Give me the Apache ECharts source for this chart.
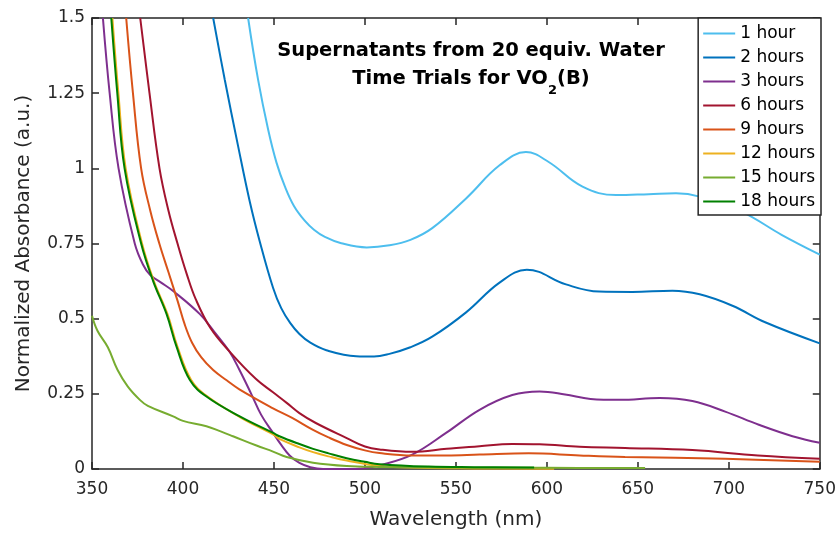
<!DOCTYPE html>
<html>
<head>
<meta charset="utf-8">
<script src="https://cdn.jsdelivr.net/npm/echarts@6/dist/echarts.min.js"></script>
<style>
html,body{margin:0;padding:0;background:#fff;}
#chart{width:839px;height:535px;}
</style>
</head>
<body>
<div id="chart"></div>
<script>
// ---- data (wavelength nm, normalized absorbance) ----
const seriesNames = ['1 hour','2 hours','3 hours','6 hours','9 hours','12 hours','15 hours','18 hours'];
const seriesColors = ['#4DBEEE','#0072BD','#7E2F8E','#A2142F','#D95319','#EDB120','#77AC30','#008000'];
const xTicks = [350,400,450,500,550,600,650,700,750];
const yTicks = [0,0.25,0.5,0.75,1,1.25,1.5];

const h1 = [[435.8,1.5],[441.3,1.294],[446.8,1.129],[451.4,1.019],[456,0.94],[461,0.875],[466.9,0.826],[472,0.796],[478,0.772],[487,0.751],[501,0.737],[513.5,0.744],[525,0.762],[537,0.801],[555.6,0.9],[574,1.01],[588.5,1.054],[601,1.021],[619.6,0.939],[638,0.911],[656,0.914],[671,0.917],[684,0.906],[707,0.856],[729,0.779],[750,0.713]];
const h2 = [[416.6,1.5],[423,1.294],[430.3,1.074],[436.7,0.89],[442.2,0.757],[449.5,0.603],[454,0.535],[459,0.485],[464,0.449],[470,0.42],[478.8,0.395],[495.2,0.375],[505,0.374],[513.5,0.383],[525,0.405],[537,0.44],[555.6,0.521],[574,0.62],[589,0.663],[610.5,0.614],[628.7,0.59],[647,0.589],[669,0.593],[684,0.581],[702,0.543],[720,0.488],[750,0.418]];
const h3 = [[356,1.5],[359.7,1.25],[364.6,1.0],[373.5,0.75],[378,0.68],[382,0.645],[388,0.62],[394.6,0.592],[409.3,0.515],[418,0.45],[425.7,0.389],[431,0.33],[437.5,0.25],[443,0.18],[449.5,0.12],[454,0.08],[458.6,0.045],[464,0.02],[470,0.006],[477,0],[490,0],[499,0.002],[508,0.012],[526,0.048],[544.6,0.12],[563,0.197],[581,0.246],[596,0.258],[610,0.248],[624,0.233],[640,0.23],[662,0.236],[680,0.226],[698,0.191],[716.5,0.147],[735,0.109],[750,0.087]];
const h6 = [[376.5,1.5],[381.6,1.25],[387.1,1.0],[392,0.86],[397,0.75],[402,0.65],[407,0.565],[415,0.47],[426,0.388],[440,0.3],[449.5,0.255],[457,0.22],[464,0.186],[473,0.153],[490,0.103],[500,0.075],[508,0.065],[526,0.057],[545,0.067],[563,0.076],[581,0.083],[596,0.082],[618,0.074],[643,0.07],[680,0.063],[716,0.045],[750,0.034]];
const h9 = [[368.8,1.5],[372.5,1.25],[377,1.0],[382,0.86],[387,0.75],[392,0.655],[397,0.56],[401,0.48],[405,0.42],[410,0.372],[416.6,0.329],[424,0.295],[431,0.265],[449.5,0.202],[460,0.17],[471.5,0.13],[480,0.105],[490,0.08],[500,0.062],[508,0.053],[526,0.045],[545,0.045],[563,0.048],[590,0.052],[618,0.045],[643,0.04],[698,0.034],[750,0.024]];
const h12 = [[361.2,1.5],[364.5,1.25],[368.5,1.0],[377.5,0.75],[384,0.625],[391.5,0.515],[397,0.406],[404.5,0.296],[413.5,0.241],[431.5,0.172],[449.5,0.115],[453,0.1],[464,0.072],[471.5,0.056],[480,0.042],[490,0.028],[508,0.01],[530,0.004],[560,0.002],[604,0.001]];
const h15 = [[350,0.51],[353,0.46],[358.7,0.405],[364,0.33],[369.7,0.274],[376.3,0.23],[380.7,0.21],[394.6,0.175],[400,0.16],[412.9,0.142],[420.7,0.125],[427.5,0.109],[440.4,0.078],[449.5,0.058],[457,0.04],[471.5,0.021],[490,0.01],[508,0.007],[540,0.005],[600,0.004],[654,0.003]];
const h18 = [[360.6,1.5],[363.9,1.25],[367.9,1.0],[377,0.75],[383.6,0.625],[391,0.515],[396.5,0.406],[403.8,0.296],[412.9,0.241],[431.2,0.175],[449.5,0.12],[453,0.109],[464,0.083],[471.5,0.067],[480,0.052],[490,0.036],[500,0.024],[508,0.016],[535,0.008],[560,0.006],[593,0.005]];
const allData = [h1,h2,h3,h6,h9,h12,h15,h18];

const FONT = '"DejaVu Sans", "Liberation Sans", Arial, sans-serif';
const AX = '#262626';

const chart = echarts.init(document.getElementById('chart'), null, {renderer:'canvas'});

// measure title pieces for subscript placement
const mctx = document.createElement('canvas').getContext('2d');
const tFont = 19.5, sFont = 13;
mctx.font = 'bold ' + tFont + 'px ' + FONT;
const wA = mctx.measureText('Time Trials for VO').width;
const wC = mctx.measureText('(B)').width;
mctx.font = 'bold ' + sFont + 'px ' + FONT;
const wB = mctx.measureText('2').width;
const titleCx = 471;
const l2start = titleCx - (wA + wB + wC) / 2;

const xAxisBase = {
  type:'value', min:350, max:750, interval:50,
  axisLine:{show:true, onZero:false, lineStyle:{color:AX, width:1.5}},
  axisTick:{show:true, inside:true, length:7, lineStyle:{color:AX, width:1.5}},
  splitLine:{show:false}
};
const yAxisBase = {
  type:'value', min:0, max:1.5, interval:0.25,
  axisLine:{show:true, onZero:false, lineStyle:{color:AX, width:1.5}},
  axisTick:{show:true, inside:true, length:7, lineStyle:{color:AX, width:1.5}},
  splitLine:{show:false}
};

const option = {
  backgroundColor:'#fff',
  animation:false,
  grid:{left:92, right:18, top:18, bottom:62, containLabel:false},
  xAxis:[
    Object.assign({}, xAxisBase, {
      position:'bottom',
      axisLabel:{color:AX, fontSize:17, fontFamily:FONT, margin:12,
        formatter:v => xTicks.includes(v) ? String(v) : ''},
      name:'Wavelength (nm)', nameLocation:'middle', nameGap:41,
      nameTextStyle:{color:AX, fontSize:20, fontFamily:FONT}
    }),
    Object.assign({}, xAxisBase, {position:'top', axisLabel:{show:false}})
  ],
  yAxis:[
    Object.assign({}, yAxisBase, {
      position:'left',
      axisLabel:{color:AX, fontSize:17, fontFamily:FONT, margin:7,
        formatter:v => yTicks.includes(v) ? String(v) : ''},
      name:'Normalized Absorbance (a.u.)', nameLocation:'middle', nameGap:58,
      nameTextStyle:{color:AX, fontSize:20, fontFamily:FONT}
    }),
    Object.assign({}, yAxisBase, {position:'right', axisLabel:{show:false}})
  ],
  legend:{
    show:true, orient:'vertical', right:18, top:18,
    data:seriesNames,
    backgroundColor:'#fff', borderColor:AX, borderWidth:1.5, borderRadius:0,
    padding:[7,6,5,4],
    itemWidth:32, itemHeight:16, itemGap:7,
    itemStyle:{opacity:0},
    lineStyle:{width:2},
    textStyle:{color:'#000', fontSize:17, fontFamily:FONT, lineHeight:16},
    selectedMode:false
  },
  graphic:[
    {type:'text', x:titleCx, y:51, z:100,
      style:{text:'Supernatants from 20 equiv. Water', font:'bold ' + tFont + 'px ' + FONT,
        fill:'#000', textAlign:'center', textVerticalAlign:'middle'}},
    {type:'text', x:l2start, y:79, z:100,
      style:{text:'Time Trials for VO', font:'bold ' + tFont + 'px ' + FONT,
        fill:'#000', textAlign:'left', textVerticalAlign:'middle'}},
    {type:'text', x:l2start + wA, y:91, z:100,
      style:{text:'2', font:'bold ' + sFont + 'px ' + FONT,
        fill:'#000', textAlign:'left', textVerticalAlign:'middle'}},
    {type:'text', x:l2start + wA + wB, y:79, z:100,
      style:{text:'(B)', font:'bold ' + tFont + 'px ' + FONT,
        fill:'#000', textAlign:'left', textVerticalAlign:'middle'}}
  ],
  series: seriesNames.map((n, i) => ({
    name:n, type:'line', data:allData[i],
    xAxisIndex:0, yAxisIndex:0,
    smooth:0.4, symbol:'none', showSymbol:false, clip:true,
    lineStyle:{color:seriesColors[i], width:2},
    itemStyle:{color:seriesColors[i]},
    emphasis:{disabled:true}
  }))
};
chart.setOption(option);
</script>
</body>
</html>
